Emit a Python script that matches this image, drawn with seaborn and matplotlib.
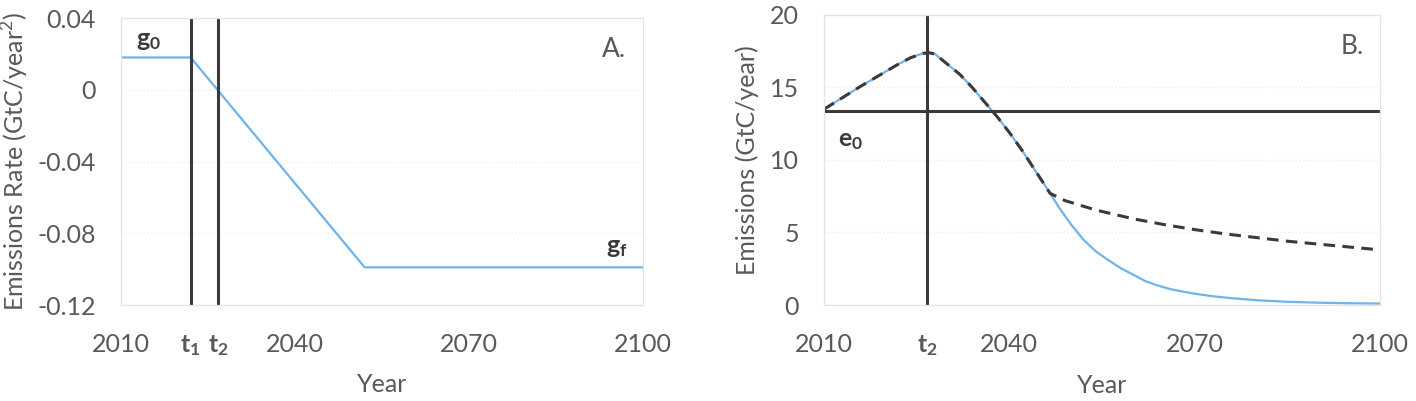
import pandas as pd
import seaborn as sns
from matplotlib import pyplot as plt

# Panel A: emissions growth rate (GtC/year^2)
years_a = [2010, 2022, 2052, 2100]
rate_a = [0.018, 0.018, -0.099, -0.099]
t1 = 2022
t2 = 2026.7
yticks_a = [0.04, 0, -0.04, -0.08, -0.12]
yticklabels_a = ["0.04", "0", "-0.04", "-0.08", "-0.12"]

# Panel B: emissions (GtC/year)
e0 = 13.4
years_b = [2010, 2013, 2016, 2019, 2022, 2024, 2026, 2027, 2028, 2030, 2032, 2034,
           2036, 2038, 2040, 2042, 2044, 2046.6, 2048, 2050, 2052, 2054, 2056, 2058,
           2060, 2062, 2064, 2066, 2068, 2070, 2073, 2076, 2080, 2085, 2090, 2095, 2100]
emis_blue = [13.5, 14.3, 15.1, 15.85, 16.6, 17.05, 17.35, 17.4, 17.3, 16.6, 15.9, 15.0,
             14.0, 13.0, 11.9, 10.7, 9.4, 7.7, 6.75, 5.55, 4.5, 3.7, 3.1, 2.55,
             2.1, 1.65, 1.35, 1.1, 0.93, 0.78, 0.6, 0.47, 0.33, 0.22, 0.16, 0.12, 0.1]
years_dash = [2010, 2013, 2016, 2019, 2022, 2024, 2026, 2027, 2028, 2030, 2032, 2034,
              2036, 2038, 2040, 2042, 2044, 2046.6, 2049, 2054, 2060, 2065, 2070, 2075,
              2080, 2085, 2090, 2095, 2100]
emis_dash = [13.5, 14.3, 15.1, 15.85, 16.6, 17.05, 17.35, 17.4, 17.3, 16.6, 15.9, 15.0,
             14.0, 13.0, 11.9, 10.7, 9.4, 7.7, 7.2, 6.55, 5.95, 5.55, 5.2, 4.9,
             4.65, 4.4, 4.2, 4.0, 3.8]
yticks_b = [0, 5, 10, 15, 20]

df_a = pd.DataFrame({"year": years_a, "rate": rate_a})
df_blue = pd.DataFrame({"year": years_b, "emissions": emis_blue})
df_dash = pd.DataFrame({"year": years_dash, "emissions": emis_dash})

sns.set_style("white")
plt.rcParams['font.family'] = ['Lato', 'DejaVu Sans']
plt.rcParams['mathtext.fontset'] = 'custom'
plt.rcParams['mathtext.bf'] = 'Lato:bold'
plt.rcParams['mathtext.rm'] = 'Lato'

blue = "#6DB3EC"
dark = "#3a3a3a"
txt = "#595959"
fs = 18

fig = plt.figure(figsize=(14.16, 4.01), dpi=100)
ax_a = fig.add_axes([0.0855, 0.2394, 0.3686, 0.7157])
ax_b = fig.add_axes([0.5819, 0.2394, 0.3927, 0.7232])

# --- panel A ---
sns.lineplot(data=df_a, x="year", y="rate", ax=ax_a, color=blue, linewidth=1.6)
ax_a.axvline(t1, color=dark, linewidth=2.2)
ax_a.axvline(t2, color=dark, linewidth=2.2)
ax_a.set_xlim(2010, 2100)
ax_a.set_ylim(-0.12, 0.04)
ax_a.set_yticks(yticks_a)
ax_a.set_yticklabels(yticklabels_a)
ax_a.set_xticks([2010, t1, t2, 2040, 2070, 2100])
ax_a.set_xticklabels(["2010", r"$\mathbf{t_1}$", r"$\mathbf{t_2}$", "2040", "2070", "2100"])
ax_a.set_ylabel("Emissions Rate (GtC/year$^2$)", fontsize=fs, color=txt, va="center")
ax_a.yaxis.set_label_coords(-0.203, 0.5)
ax_a.text(0.052, 0.923, r"$\mathbf{g_0}$", transform=ax_a.transAxes, fontsize=fs,
          color=dark, ha="center", va="center")
ax_a.text(0.950, 0.199, r"$\mathbf{g_f}$", transform=ax_a.transAxes, fontsize=fs,
          color=dark, ha="center", va="center")
ax_a.text(0.944, 0.889, "A.", transform=ax_a.transAxes, fontsize=fs + 1,
          color=txt, ha="center", va="center")

# --- panel B ---
sns.lineplot(data=df_blue, x="year", y="emissions", ax=ax_b, color=blue, linewidth=1.6)
sns.lineplot(data=df_dash, x="year", y="emissions", ax=ax_b, color=dark, linewidth=2.2,
             dashes=False, linestyle=(0, (3.8, 2.4)))
ax_b.axvline(t2, color=dark, linewidth=2.2)
ax_b.axhline(e0, color=dark, linewidth=2.2)
ax_b.set_xlim(2010, 2100)
ax_b.set_ylim(0, 20)
ax_b.set_yticks(yticks_b)
ax_b.set_xticks([2010, t2, 2040, 2070, 2100])
ax_b.set_xticklabels(["2010", r"$\mathbf{t_2}$", "2040", "2070", "2100"])
ax_b.set_ylabel("Emissions (GtC/year)", fontsize=fs, color=txt, va="center")
ax_b.yaxis.set_label_coords(-0.138, 0.5)
ax_b.text(0.047, 0.566, r"$\mathbf{e_0}$", transform=ax_b.transAxes, fontsize=fs,
          color=dark, ha="center", va="center")
ax_b.text(0.950, 0.893, "B.", transform=ax_b.transAxes, fontsize=fs + 1,
          color=txt, ha="center", va="center")

for ax in (ax_a, ax_b):
    ax.set_xlabel("Year", fontsize=fs, color=txt, va="center")
    ax.xaxis.set_label_coords(0.5, -0.278)
    ax.tick_params(length=0, labelsize=fs, labelcolor=txt)
    ax.tick_params(axis="x", pad=20)
    ax.tick_params(axis="y", pad=18)
    ax.grid(axis="y", color="#ededed", linestyle=":", linewidth=1.0)
    for sp in ax.spines.values():
        sp.set_color("#e4e4e4")
        sp.set_linewidth(0.9)

fig.savefig("out.png", dpi=100)
